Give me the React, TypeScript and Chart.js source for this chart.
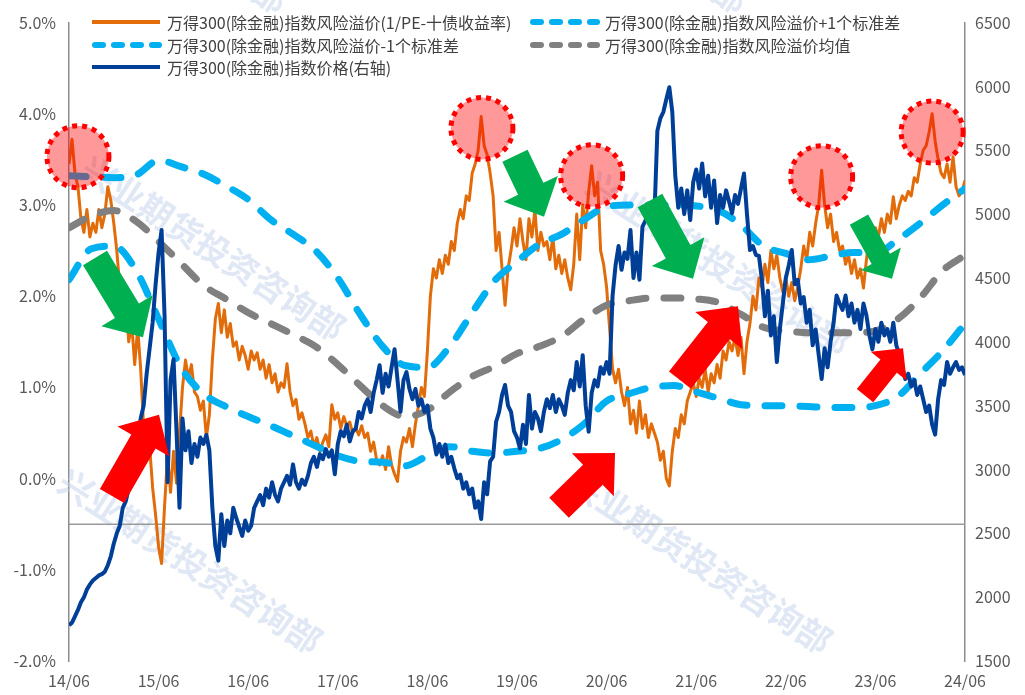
import React, { useEffect, useRef } from "react";
import { Chart, registerables } from "chart.js";

Chart.register(...registerables);

// ---------------- data ----------------
const xTickLabels = ["14/06", "15/06", "16/06", "17/06", "18/06", "19/06", "20/06", "21/06", "22/06", "23/06", "24/06"];

// daily series, sampled every 0.4 month starting 2014-06
const dailyStepMonths = 0.4;
const riskPremium = [
  3.45, 3.72, 3.35, 3.20, 2.85, 2.70, 2.95, 2.65, 2.80, 2.70,
  2.95, 2.75, 2.90, 3.20, 3.05, 2.80, 2.50, 2.10, 1.75, 1.95,
  1.50, 1.70, 1.25, 1.65, 1.20, 0.55, 0.20, 0.35, -0.10, -0.40,
  -0.75, -0.93, -0.30, 0.25, -0.15, 0.30, -0.05, 0.50, 1.00, 1.30,
  1.10, 1.25, 0.95, 0.90, 0.75, 0.85, 0.45, 0.70, 1.30, 1.75,
  1.92, 1.60, 1.85, 1.55, 1.70, 1.45, 1.50, 1.30, 1.45, 1.35,
  1.20, 1.40, 1.30, 1.38, 1.20, 1.30, 1.10, 1.25, 1.05, 1.15,
  0.95, 1.05, 1.00, 1.26, 0.95, 0.80, 0.87, 0.65, 0.72, 0.60,
  0.45, 0.52, 0.35, 0.45, 0.30, 0.40, 0.48, 0.35, 0.81, 0.65,
  0.72, 0.55, 0.68, 0.58, 0.62, 0.50, 0.55, 0.48, 0.58, 0.45,
  0.50, 0.30, 0.40, 0.20, 0.15, 0.25, 0.10, 0.35, 0.15, 0.05,
  -0.03, 0.30, 0.45, 0.40, 0.55, 0.35, 0.60, 0.80, 1.00, 0.90,
  1.40, 2.00, 2.30, 2.20, 2.40, 2.25, 2.45, 2.35, 2.60, 2.50,
  2.80, 2.95, 2.85, 3.10, 3.05, 3.35, 3.45, 3.60, 3.97, 3.65,
  3.55, 3.35, 3.10, 2.50, 2.70, 2.30, 1.90, 2.30, 2.50, 2.75,
  2.55, 2.85, 2.60, 2.40, 2.85, 2.65, 2.95, 2.50, 2.70, 2.55,
  2.60, 2.40, 2.65, 2.30, 2.45, 2.25, 2.40, 2.20, 2.07, 2.35,
  2.90, 2.40, 3.00, 2.75, 3.15, 3.43, 3.10, 3.25, 2.50, 2.35,
  2.10, 1.65, 1.20, 1.05, 1.20, 0.95, 0.80, 1.00, 0.60, 0.75,
  0.50, 0.85, 0.55, 0.70, 0.45, 0.60, 0.50, 0.40, 0.20, 0.30,
  0.00, -0.08, 0.30, 0.55, 0.45, 0.70, 0.60, 0.85, 0.95, 1.05,
  0.90, 1.10, 1.00, 1.20, 0.95, 1.15, 1.05, 1.25, 1.10, 1.40,
  1.30, 1.50, 1.40, 1.55, 1.35, 1.55, 1.15, 1.50, 1.70, 2.00,
  1.85, 2.20, 2.10, 2.35, 2.15, 2.50, 2.30, 2.45, 2.20, 2.05,
  2.20, 2.00, 2.15, 1.95, 2.10, 2.30, 2.55, 2.40, 2.70, 2.55,
  2.80, 3.00, 3.38, 3.00, 2.75, 2.90, 2.60, 2.70, 2.50, 2.55,
  2.35, 2.45, 2.25, 2.40, 2.20, 2.30, 2.09, 2.40, 2.65, 2.55,
  2.75, 2.65, 2.85, 2.70, 2.90, 2.80, 3.09, 2.85, 3.00, 3.10,
  3.05, 3.15, 3.10, 3.30, 3.25, 3.45, 3.60, 3.65, 3.80, 4.00,
  3.70, 3.50, 3.35, 3.30, 3.45, 3.25, 3.53, 3.20, 3.10, 3.15, 3.27,
];

const indexPrice = [
  1780, 1800, 1850, 1900, 1960, 2000, 2060, 2100, 2130, 2150,
  2170, 2180, 2200, 2250, 2320, 2420, 2500, 2560, 2700, 2750,
  2850, 2900, 3050, 3200, 3400, 3500, 3750, 3950, 4150, 4450,
  4700, 4875, 4200, 2900, 3700, 3864, 3300, 2700, 3400, 3150,
  3300, 3050, 3200, 3100, 3250, 3200, 3270, 3150, 2700, 2400,
  2286, 2650, 2400, 2600, 2500, 2700, 2620, 2550, 2480, 2600,
  2520, 2560, 2700, 2750, 2800, 2720, 2850, 2780, 2900, 2800,
  2750, 2850, 2900, 2950, 2880, 3040, 2900, 2850, 2920, 2880,
  2950, 3050, 3100, 3020, 3120, 3080, 3160, 3100, 3150, 2962,
  3200, 3300, 3260, 3350, 3220, 3300, 3320, 3450, 3400, 3500,
  3550, 3450, 3600, 3700, 3817, 3600, 3750, 3650, 3800, 3942,
  3700, 3452, 3700, 3763, 3630, 3550, 3630, 3500, 3550, 3452,
  3500, 3320, 3250, 3118, 3200, 3100, 3195, 3050, 3100, 3009,
  2931, 2960, 2850, 2900, 2806, 2850, 2700, 2750, 2612, 2900,
  2806, 3063, 3100, 3374, 3450, 3584, 3662, 3500, 3452, 3300,
  3250, 3164, 3350, 3200, 3584, 3320, 3450, 3400, 3300, 3450,
  3550, 3480, 3584, 3450, 3550, 3500, 3428, 3600, 3700, 3620,
  3841, 3650, 3895, 3500, 3296, 3600, 3700, 3650, 3800, 3750,
  3841, 3750, 4362, 4600, 4750, 4564, 4700, 4650, 4875, 4500,
  4700, 4486, 4900, 4950, 5007, 4900, 4980, 5652, 5750, 5800,
  5900, 5994, 5800, 5300, 5050, 5200, 5000, 5186, 4953, 5250,
  5350, 5200, 5396, 5139, 5300, 5050, 5264, 4930, 5150, 5050,
  5186, 5100, 5007, 5150, 5080, 5200, 5318, 5000, 4719, 4750,
  4680, 4673, 4486, 4200, 4400, 4050, 4200, 3841, 4100, 4300,
  4500, 4600, 4719, 4450, 4486, 4300, 4350, 4150, 4250, 3973,
  4097, 3900, 3708, 3950, 3800, 4000, 4150, 4362, 4300, 4250,
  4362, 4200, 4300, 4150, 4250, 4100, 4300, 4206, 4050, 3942,
  4100, 4000, 4150, 4050, 4100, 4000, 4150, 3973, 3900, 3800,
  3708, 3750, 3650, 3700, 3584, 3650, 3550, 3450, 3500, 3350,
  3273, 3550, 3700, 3662, 3841, 3750, 3800, 3841, 3780, 3800, 3740,
];

// rolling bands, one value per quarter starting 2014-06
const bandStepMonths = 3;
const plusOneStd = [
  3.32, 3.31, 3.30, 3.33, 3.49, 3.42, 3.34, 3.21, 3.06, 2.84,
  2.68, 2.50, 2.20, 1.80, 1.45, 1.24, 1.22, 1.45, 1.82, 2.17,
  2.38, 2.57, 2.68, 2.84, 2.98, 3.00, 3.00, 3.00, 2.99, 2.94,
  2.78, 2.55, 2.47, 2.40, 2.44, 2.48, 2.47, 2.62, 2.80, 3.00, 3.18,
];
const minusOneStd = [
  2.18, 2.52, 2.55, 2.28, 1.75, 1.22, 0.93, 0.79, 0.68, 0.58,
  0.47, 0.36, 0.25, 0.19, 0.18, 0.14, 0.25, 0.35, 0.30, 0.28,
  0.30, 0.33, 0.43, 0.60, 0.85, 0.93, 1.00, 1.02, 0.95, 0.88,
  0.81, 0.80, 0.80, 0.79, 0.78, 0.78, 0.80, 0.90, 1.15, 1.40, 1.70,
];
const meanPremium = [
  2.75, 2.88, 2.94, 2.82, 2.60, 2.36, 2.12, 1.97, 1.82, 1.70,
  1.58, 1.45, 1.25, 1.02, 0.80, 0.68, 0.75, 0.95, 1.12, 1.23,
  1.37, 1.45, 1.56, 1.75, 1.90, 1.95, 1.98, 1.98, 1.97, 1.93,
  1.80, 1.66, 1.62, 1.60, 1.60, 1.60, 1.62, 1.75, 1.98, 2.28, 2.45,
];

const seriesNames = [
  "万得300(除金融)指数风险溢价(1/PE-十债收益率)",
  "万得300(除金融)指数风险溢价+1个标准差",
  "万得300(除金融)指数风险溢价-1个标准差",
  "万得300(除金融)指数风险溢价均值",
  "万得300(除金融)指数价格(右轴)",
];

const axisCrossValue = -0.5;

// annotations in data coordinates: x = months since 2014-06, y = % (left axis)
const highlightCircles = [
  [1.2, 3.53], [55.3, 3.84], [70.0, 3.32], [100.8, 3.31], [115.6, 3.80],
];
const greenArrows = [
  { from: [3.48, 2.42], to: [9.91, 1.55], big: true },
  { from: [59.73, 3.54], to: [63.62, 2.87], big: true },
  { from: [77.81, 3.05], to: [83.57, 2.19], big: true },
  { from: [105.8, 2.84], to: [110.22, 2.19], big: false },
];
const redArrows = [
  { from: [5.76, -0.19], to: [12.05, 0.70], big: true },
  { from: [65.63, -0.32], to: [73.13, 0.28], big: true },
  { from: [81.83, 1.08], to: [89.6, 1.89], big: true },
  { from: [106.61, 0.91], to: [111.7, 1.43], big: false },
];

const watermarkText = "兴业期货投资咨询部";
const watermarkSpots = [
  [85, 165], [62, 478], [590, 180], [572, 478], [28, -162], [488, -162],
];

// ---------------- styles ----------------
const C_ORANGE = "#E36C0A";
const C_LIGHTBLUE = "#00B0F0";
const C_GRAY = "#808080";
const C_BLUE = "#003F98";
const TEXT = "#595959";
const FONT = '"Noto Sans CJK SC", "Noto Sans", sans-serif';

const overlayPlugin = {
  id: "overlay",
  beforeDatasetsDraw(chart: any) {
    const { ctx, chartArea } = chart;
    ctx.save();
    ctx.font = `bold 34px ${FONT}`;
    ctx.fillStyle = "rgba(200,214,236,0.55)";
    ctx.textBaseline = "middle";
    for (const [x, y] of watermarkSpots) {
      ctx.save();
      ctx.translate(x, y);
      ctx.rotate((33 * Math.PI) / 180);
      ctx.fillText(watermarkText, 0, 0);
      ctx.restore();
    }
    ctx.restore();

    const yp = chart.scales.y.getPixelForValue(axisCrossValue);
    ctx.save();
    ctx.strokeStyle = "#9A9A9A";
    ctx.lineWidth = 1.5;
    ctx.beginPath();
    ctx.moveTo(chartArea.left, yp);
    ctx.lineTo(chartArea.right, yp);
    ctx.stroke();
    ctx.restore();
  },
  afterDatasetsDraw(chart: any) {
    const { ctx } = chart;
    const xs = chart.scales.x;
    const ys = chart.scales.y;
    const px = (p: number[]) => [xs.getPixelForValue(p[0]), ys.getPixelForValue(p[1])];

    for (const c of highlightCircles) {
      const [cx, cy] = px(c);
      ctx.save();
      ctx.beginPath();
      ctx.arc(cx, cy, 31, 0, Math.PI * 2);
      ctx.fillStyle = "rgba(255,0,0,0.4)";
      ctx.fill();
      ctx.setLineDash([5, 5]);
      ctx.lineWidth = 5;
      ctx.strokeStyle = "#FF0000";
      ctx.stroke();
      ctx.restore();
    }

    const drawArrow = (a: any, color: string) => {
      const [tx, ty] = px(a.from);
      const [hx, hy] = px(a.to);
      const sw = a.big ? 28 : 21;
      const hw = a.big ? 60 : 46;
      const hl = a.big ? 31 : 23;
      const dx = hx - tx, dy = hy - ty;
      const len = Math.hypot(dx, dy);
      const ux = dx / len, uy = dy / len;
      const nx = -uy, ny = ux;
      const bx = hx - ux * hl, by = hy - uy * hl;
      ctx.save();
      ctx.beginPath();
      ctx.moveTo(tx + (nx * sw) / 2, ty + (ny * sw) / 2);
      ctx.lineTo(bx + (nx * sw) / 2, by + (ny * sw) / 2);
      ctx.lineTo(bx + (nx * hw) / 2, by + (ny * hw) / 2);
      ctx.lineTo(hx, hy);
      ctx.lineTo(bx - (nx * hw) / 2, by - (ny * hw) / 2);
      ctx.lineTo(bx - (nx * sw) / 2, by - (ny * sw) / 2);
      ctx.lineTo(tx - (nx * sw) / 2, ty - (ny * sw) / 2);
      ctx.closePath();
      ctx.fillStyle = color;
      ctx.fill();
      ctx.restore();
    };
    greenArrows.forEach((a) => drawArrow(a, "#00B050"));
    redArrows.forEach((a) => drawArrow(a, "#FF0000"));
  },
};

const legendLayout = [
  { name: seriesNames[0], color: C_ORANGE, dashed: false, left: 92, top: 22 },
  { name: seriesNames[1], color: C_LIGHTBLUE, dashed: true, left: 530, top: 22 },
  { name: seriesNames[2], color: C_LIGHTBLUE, dashed: true, left: 92, top: 45 },
  { name: seriesNames[3], color: C_GRAY, dashed: true, left: 530, top: 45 },
  { name: seriesNames[4], color: C_BLUE, dashed: false, left: 92, top: 67 },
];

export default function App() {
  const ref = useRef<HTMLCanvasElement>(null);

  useEffect(() => {
    document.body.style.margin = "0";
    const daily = (arr: number[]) => arr.map((v, i) => ({ x: i * dailyStepMonths, y: v }));
    const band = (arr: number[]) => arr.map((v, i) => ({ x: i * bandStepMonths, y: v }));
    const dashed = (color: string, data: number[], name: string, order: number) => ({
      label: name,
      data: band(data),
      borderColor: color,
      borderWidth: 7,
      borderDash: [17, 18],
      borderCapStyle: "round",
      pointRadius: 0,
      cubicInterpolationMode: "monotone",
      yAxisID: "y",
      order,
    });

    const chart = new Chart(ref.current as HTMLCanvasElement, {
      type: "line",
      data: {
        datasets: [
          {
            label: seriesNames[0],
            data: daily(riskPremium),
            borderColor: C_ORANGE,
            borderWidth: 3,
            pointRadius: 0,
            tension: 0,
            borderJoinStyle: "round",
            yAxisID: "y",
            order: 4,
          },
          dashed(C_LIGHTBLUE, plusOneStd, seriesNames[1], 3),
          dashed(C_LIGHTBLUE, minusOneStd, seriesNames[2], 2),
          dashed(C_GRAY, meanPremium, seriesNames[3], 1),
          {
            label: seriesNames[4],
            data: daily(indexPrice),
            borderColor: C_BLUE,
            borderWidth: 4,
            pointRadius: 0,
            tension: 0,
            borderJoinStyle: "round",
            yAxisID: "y1",
            order: 0,
          },
        ],
      } as any,
      options: {
        responsive: false,
        animation: false,
        devicePixelRatio: 1,
        layout: { padding: { top: 18, left: 0, right: 0, bottom: 0 } },
        plugins: { legend: { display: false }, tooltip: { enabled: false } },
        scales: {
          x: {
            type: "linear",
            min: 0,
            max: 120,
            grid: { display: false, drawTicks: false },
            border: { display: false },
            ticks: {
              stepSize: 12,
              autoSkip: false,
              maxRotation: 0,
              color: TEXT,
              padding: 10,
              font: { family: FONT, size: 16 },
              callback: (v: any) => xTickLabels[Math.round(Number(v) / 12)] ?? "",
            },
            afterFit: (s: any) => {
              s.height = 34;
            },
          },
          y: {
            position: "left",
            min: -2,
            max: 5,
            grid: { display: false, drawTicks: false },
            border: { display: true, color: "#8C8C8C", width: 1.5 },
            ticks: {
              stepSize: 1,
              color: TEXT,
              padding: 13,
              font: { family: FONT, size: 16 },
              callback: (v: any) => Number(v).toFixed(1) + "%",
            },
            afterFit: (s: any) => {
              s.width = 69;
            },
          },
          y1: {
            position: "right",
            min: 1500,
            max: 6500,
            grid: { display: false, drawTicks: false },
            border: { display: true, color: "#8C8C8C", width: 1.5 },
            ticks: {
              stepSize: 500,
              color: TEXT,
              padding: 10,
              font: { family: FONT, size: 16 },
              callback: (v: any) => String(Math.round(Number(v))),
            },
            afterFit: (s: any) => {
              s.width = 60;
            },
          },
        },
      } as any,
      plugins: [overlayPlugin],
    });
    return () => chart.destroy();
  }, []);

  return (
    <div style={{ position: "relative", width: 1025, height: 695, background: "#fff" }}>
      <canvas ref={ref} width={1025} height={695} style={{ display: "block" }} />
      {legendLayout.map((it, i) => (
        <div
          key={i}
          style={{
            position: "absolute",
            left: it.left,
            top: it.top - 11,
            height: 22,
            display: "flex",
            alignItems: "center",
            whiteSpace: "nowrap",
            fontFamily: FONT,
            fontSize: 16,
            color: "#404040",
          }}
        >
          <svg width={70} height={10} style={{ marginRight: 5 }}>
            {it.dashed ? (
              <line x1={3} y1={5} x2={67} y2={5} stroke={it.color} strokeWidth={6} strokeDasharray="8 11" strokeLinecap="round" />
            ) : (
              <line x1={0} y1={5} x2={68} y2={5} stroke={it.color} strokeWidth={4} />
            )}
          </svg>
          <span>{it.name}</span>
        </div>
      ))}
    </div>
  );
}
